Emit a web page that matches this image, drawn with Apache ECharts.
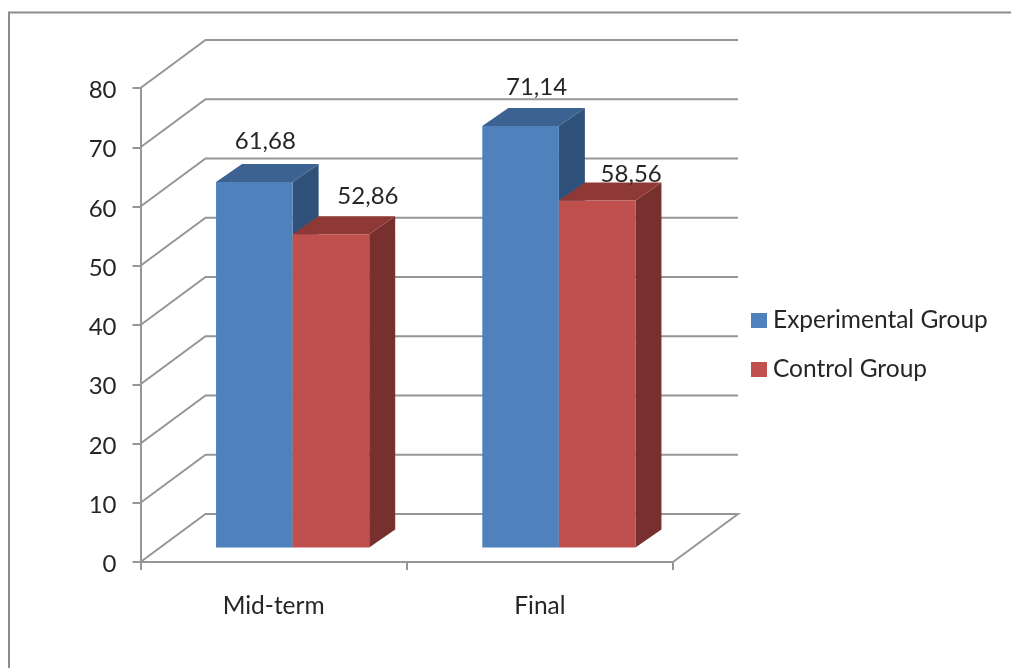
<!DOCTYPE html>
<html><head><meta charset="utf-8">
<style>html,body{margin:0;padding:0;background:#fff}#c{width:1011px;height:668px}</style>
<script src="https://cdn.jsdelivr.net/npm/echarts@6/dist/echarts.min.js"></script>
</head><body><div id="c"></div>
<script>
const categories = ['Mid-term', 'Final'];
const experimental = [61.68, 71.14];
const control = [52.86, 58.56];
const ticks = [0, 10, 20, 30, 40, 50, 60, 70, 80];

const FONT = 'Lato';
const TEXT = '#262626';
const GRID = '#969696';
const WALL = [65, -48];     // depth of the plot box
const FRONT = [19, -14.5];  // bars stand this far behind the front axis
const DEPTH = [26, -18];    // depth of one bar
const BAR_SHARE = 0.2876;   // bar width as a share of a category band
const labelShift = {
  'Experimental Group': [[11, -41], [16, -38.5]],
  'Control Group': [[37, -38], [34, -26.5]]
};

const fmt = v => v.toFixed(2).replace('.', ',');

function barSeries(name, values, side, front, top, flank) {
  return {
    name, type: 'custom', z: 3,
    itemStyle: { color: front },
    data: values.map((v, i) => [i, v]),
    encode: { x: 0, y: 1 },
    renderItem(params, api) {
      const i = api.value(0), v = api.value(1);
      const bw = api.size([1, 0])[0] * BAR_SHARE;
      const c = api.coord([i, v]);
      const b = api.coord([i, 0]);
      const x0 = c[0] + FRONT[0] + (side === 0 ? -bw : 0);
      const x1 = x0 + bw;
      const yt = c[1] + FRONT[1], yb = b[1] + FRONT[1];
      const [dx, dy] = DEPTH;
      const s = labelShift[name][i];
      return { type: 'group', children: [
        { type: 'polygon', shape: { points: [[x1, yt], [x1 + dx, yt + dy], [x1 + dx, yb + dy], [x1, yb]] }, style: { fill: flank } },
        { type: 'polygon', shape: { points: [[x0, yt], [x0 + dx, yt + dy], [x1 + dx, yt + dy], [x1, yt]] }, style: { fill: top } },
        { type: 'rect', shape: { x: x0, y: yt, width: bw, height: yb - yt }, style: { fill: front } },
        { type: 'text', z2: 10, style: { x: (x0 + x1) / 2 + s[0], y: yt + s[1], text: fmt(v), fill: TEXT,
            font: '24px ' + FONT, align: 'center', verticalAlign: 'middle' } }
      ] };
    }
  };
}

const gridSeries = {
  type: 'custom', silent: true, z: 1, name: 'walls',
  data: ticks.map(t => [t]),
  encode: { y: 0 },
  renderItem(params, api) {
    const t = api.value(0);
    const a = api.coord([0, t]);
    const xLeft = params.coordSys.x, xRight = xLeft + params.coordSys.width;
    const y = a[1];
    const pts = [[xLeft, y], [xLeft + WALL[0], y + WALL[1]], [xRight + WALL[0], y + WALL[1]]];
    if (t === 0) pts.push([xRight, y]);
    return { type: 'polyline', shape: { points: pts }, style: { fill: 'none', stroke: GRID, lineWidth: 2 } };
  }
};

const chart = echarts.init(document.getElementById('c'), null, { renderer: 'canvas' });
chart.setOption({
  backgroundColor: '#fff',
  animation: false,
  graphic: [{ type: 'polyline', z: 0, shape: { points: [[9, 668], [9, 12.5], [1011, 12.5]] },
    style: { fill: 'none', stroke: '#8c8c8c', lineWidth: 2 } }],
  grid: { left: 140.5, right: 338, top: 88, bottom: 106 },
  legend: {
    data: ['Experimental Group', 'Control Group'],
    orient: 'vertical', left: 751, top: 308,
    itemWidth: 16, itemHeight: 15, itemGap: 24,
    icon: 'rect',
    textStyle: { fontFamily: FONT, fontSize: 24.5, color: TEXT, lineHeight: 22, padding: [0, 0, 0, 1] },
    itemStyle: {}, selectedMode: false, padding: 0
  },
  xAxis: {
    type: 'category', data: categories,
    boundaryGap: true,
    axisLine: { lineStyle: { color: GRID, width: 2 } },
    axisTick: { show: true, alignWithLabel: false, length: 8, lineStyle: { color: GRID, width: 2 } },
    axisLabel: { color: TEXT, fontFamily: FONT, fontSize: 24.5, margin: 32 },
    splitLine: { show: false }
  },
  yAxis: {
    type: 'value', min: 0, max: 80, interval: 10,
    axisLine: { show: true, lineStyle: { color: GRID, width: 2 } },
    axisTick: { show: true, length: 8, lineStyle: { color: GRID, width: 2 } },
    axisLabel: { color: TEXT, fontFamily: FONT, fontSize: 24, margin: 24, verticalAlign: 'top', lineHeight: 5 },
    splitLine: { show: false }
  },
  series: [
    gridSeries,
    barSeries('Experimental Group', experimental, 0, '#4F81BD', '#3B6290', '#30527A'),
    barSeries('Control Group', control, 1, '#C0504D', '#8F3936', '#78302E')
  ]
});
</script></body></html>
